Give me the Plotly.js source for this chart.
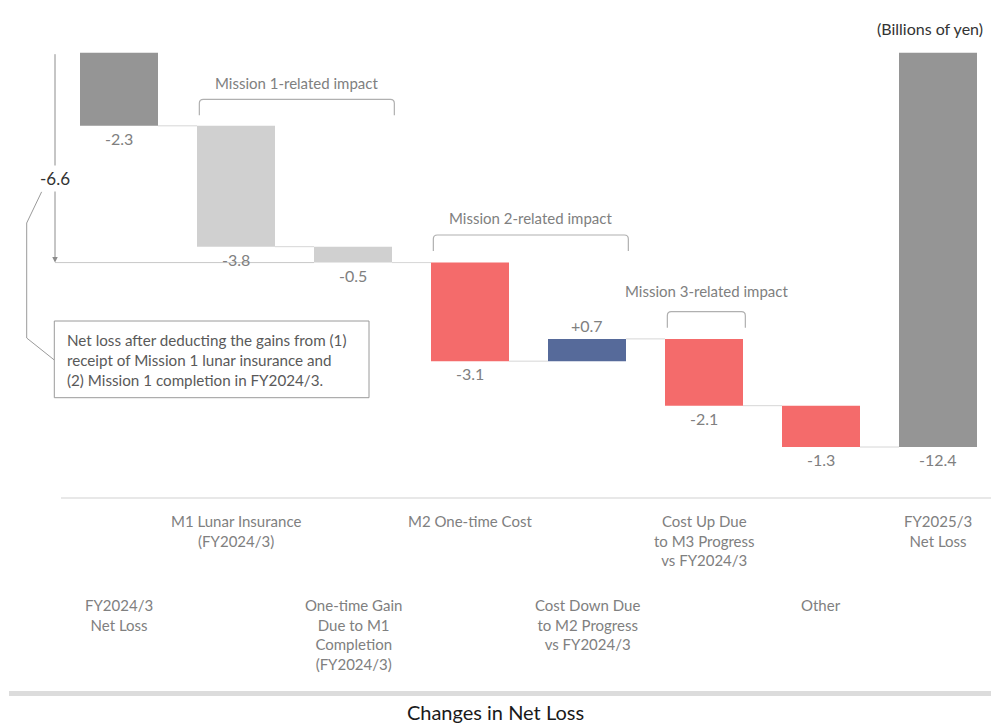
<!DOCTYPE html>
<html>
<head>
<meta charset="utf-8">
<script src="https://cdn.plot.ly/plotly-3.0.1.min.js"></script>
<style>html,body{margin:0;padding:0;background:#fff;}#chart{width:991px;height:727px;}</style>
</head>
<body>
<div id="chart"></div>
<script>
// ---- data ----
const categories = [
  "FY2024/3<br>Net Loss",
  "M1 Lunar Insurance<br>(FY2024/3)",
  "One-time Gain<br>Due to M1<br>Completion<br>(FY2024/3)",
  "M2 One-time Cost",
  "Cost Down Due<br>to M2 Progress<br>vs FY2024/3",
  "Cost Up Due<br>to M3 Progress<br>vs FY2024/3",
  "Other",
  "FY2025/3<br>Net Loss"
];
const values = [-2.3, -3.8, -0.5, -3.1, 0.7, -2.1, -1.3, -12.4];
const measures = ["absolute", "relative", "relative", "relative", "relative", "relative", "relative", "total"];
const valueLabels = ["-2.3", "-3.8", "-0.5", "-3.1", "+0.7", "-2.1", "-1.3", "-12.4"];
const barColors = ["#959595", "#d0d0d0", "#d0d0d0", "#f46b6b", "#566a9a", "#f46b6b", "#f46b6b", "#959595"];
const groupNames = ["Mission 1-related impact", "Mission 2-related impact", "Mission 3-related impact"];
const groupFirst = [1, 3, 5];
const groupLast = [2, 4, 5];
const subtotalUpTo = 2; // -6.6 after M1-related items
const noteLines = [
  "Net loss after deducting the gains from (1)",
  "receipt of Mission 1 lunar insurance and",
  "(2) Mission 1 completion in FY2024/3."
];

// ---- geometry helpers (pixels -> axis units) ----
const W = 991, H = 727;
const X0PX = 119, XSTEP = 117;          // category centre / spacing in px
const Y0PX = 52.7, YUNIT = 31.8;        // zero line / px per unit
const px2x = p => (p - X0PX) / XSTEP;
const py2p = p => 1 - p / H;            // pixel -> paper y
const HALF = 0.3333;

// ---- build bases ----
const xs = [], bases = [], ys = [], ends = [];
let run = 0;
values.forEach((v, i) => {
  xs.push(i);
  if (measures[i] === "absolute") { bases.push(0); ys.push(v); run = v; }
  else if (measures[i] === "total") { bases.push(0); ys.push(run); }
  else { bases.push(run); ys.push(v); run += v; }
  ends.push(run);
});

const trace = {
  type: "bar",
  x: xs, y: ys, base: bases,
  width: 2 * HALF,
  marker: { color: barColors, line: { width: 0 } },
  hoverinfo: "skip"
};

const shapes = [];
const annotations = [];
const GREY = "#808080";
const FONT = "Lato, 'Open Sans', sans-serif";

// connectors
for (let i = 0; i < values.length - 1; i++) {
  shapes.push({ type: "line", xref: "x", yref: "y",
    x0: i + HALF, x1: i + 1 - HALF, y0: ends[i], y1: ends[i],
    line: { color: "#d6d6d6", width: 1 } });
}

// value labels
values.forEach((v, i) => {
  const top = Math.max(bases[i], bases[i] + ys[i]);
  const bot = Math.min(bases[i], bases[i] + ys[i]);
  const up = v > 0;
  annotations.push({ x: i, y: up ? top : bot, xref: "x", yref: "y",
    text: valueLabels[i], showarrow: false,
    yanchor: up ? "bottom" : "top", yshift: up ? 2 : -1,
    font: { family: FONT, size: 16, color: GREY } });
});

// category labels (staggered)
categories.forEach((c, i) => {
  const upper = i % 2 === 1;
  annotations.push({ x: i, y: py2p(upper ? 510 : 594), xref: "x", yref: "paper",
    text: c, showarrow: false, yanchor: "top", align: "center",
    font: { family: FONT, size: 15, color: GREY } });
});

// group brackets
const bracketTops = [99.3, 235, 311.7];
const labelYs = [82.7, 218, 291];
const bracketLen = 16;
groupNames.forEach((g, k) => {
  const xl = groupFirst[k] - HALF + 0.02, xr = groupLast[k] + HALF + 0.02;
  const yt = py2p(bracketTops[k]), yb = py2p(bracketTops[k] + bracketLen);
  const r = 4 / H, rx = 4 / XSTEP;
  shapes.push({ type: "path", xref: "x", yref: "paper",
    path: `M ${xl},${yb} L ${xl},${yt - r} Q ${xl},${yt} ${xl + rx},${yt} L ${xr - rx},${yt} Q ${xr},${yt} ${xr},${yt - r} L ${xr},${yb}`,
    line: { color: "#b0b0b0", width: 1.2 } });
  annotations.push({ x: (xl + xr) / 2, y: py2p(labelYs[k]), xref: "x", yref: "paper",
    text: g, showarrow: false, yanchor: "middle",
    font: { family: FONT, size: 15, color: GREY } });
});

// -6.6 subtotal arrow
let subtotal = 0;
for (let i = 0; i <= subtotalUpTo; i++) subtotal += values[i];
subtotal = Math.round(subtotal * 10) / 10;
const ax = px2x(55);
shapes.push({ type: "line", xref: "x", yref: "y",
  x0: ax, x1: subtotalUpTo - HALF, y0: subtotal, y1: subtotal,
  line: { color: "#c8c8c8", width: 1 } });
annotations.push({ x: ax, y: subtotal, ax: ax, ay: 0, xref: "x", yref: "y", axref: "x", ayref: "y",
  text: "", showarrow: true, arrowhead: 2, arrowsize: 1.1, arrowwidth: 1, arrowcolor: "#8c8c8c", standoff: 0 });
annotations.push({ x: ax, y: subtotal * 0.6, xref: "x", yref: "y", yanchor: "middle",
  text: subtotal.toFixed(1), showarrow: false, bgcolor: "#ffffff", borderpad: 2,
  font: { family: FONT, size: 17, color: "#333333" } });

// callout line & box
const P = (x, y) => `${x / W},${py2p(y)}`;
shapes.push({ type: "path", xref: "paper", yref: "paper",
  path: `M ${P(41.7, 191.7)} L ${P(26.7, 223)} L ${P(26.7, 338)} L ${P(54.3, 360)}`,
  line: { color: "#9a9a9a", width: 1 } });
shapes.push({ type: "rect", xref: "paper", yref: "paper",
  x0: 54.3 / W, x1: 369 / W, y0: py2p(321), y1: py2p(397.7),
  line: { color: "#9a9a9a", width: 1 }, fillcolor: "#ffffff" });
annotations.push({ x: 65 / W, y: py2p(329), xref: "paper", yref: "paper",
  text: noteLines.join("<br>"), showarrow: false, xanchor: "left", yanchor: "top", align: "left",
  font: { family: FONT, size: 15.2, color: "#595959" } });

// axis baseline
shapes.push({ type: "line", xref: "paper", yref: "paper",
  x0: 61 / W, x1: 1, y0: py2p(498), y1: py2p(498),
  line: { color: "#e0e0e0", width: 1.5 } });
// bottom band
shapes.push({ type: "rect", xref: "paper", yref: "paper",
  x0: 9 / W, x1: 1, y0: py2p(691), y1: py2p(696),
  line: { width: 0 }, fillcolor: "#dcdcdc" });

// unit label
annotations.push({ x: 930 / W, y: py2p(28.3), xref: "paper", yref: "paper",
  text: "(Billions of yen)", showarrow: false, xanchor: "center", yanchor: "middle",
  font: { family: FONT, size: 16, color: "#333333" } });

const layout = {
  width: W, height: H,
  margin: { l: 0, r: 0, t: 0, b: 0 },
  paper_bgcolor: "#ffffff", plot_bgcolor: "#ffffff",
  showlegend: false,
  title: { text: "Changes in Net Loss", x: 0.5, xanchor: "center", y: py2p(713), yanchor: "middle", yref: "paper",
    font: { family: FONT, size: 20, color: "#1a1a1a" } },
  xaxis: { range: [px2x(0), px2x(W)], visible: false, fixedrange: true },
  yaxis: { range: [-(H - Y0PX) / YUNIT, Y0PX / YUNIT], visible: false, fixedrange: true },
  shapes: shapes,
  annotations: annotations,
  hovermode: false
};

Plotly.newPlot("chart", [trace], layout, { staticPlot: true, displayModeBar: false });
</script>
</body>
</html>
